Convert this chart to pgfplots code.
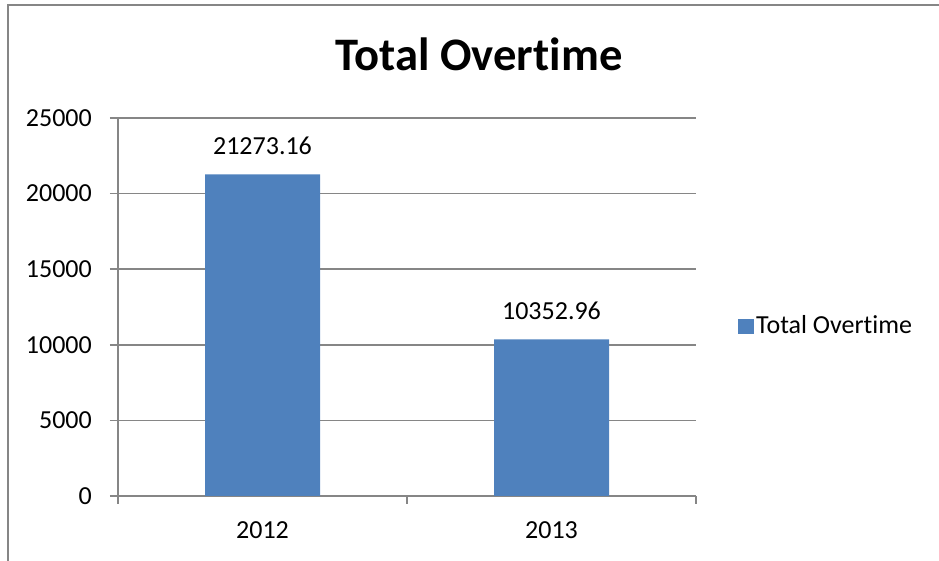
\documentclass[border=0pt]{standalone}
\usepackage{fontspec}
\setmainfont[Ligatures={NoCommon,NoContextual}]{Carlito}
\usepackage{pgfplots}
\pgfplotsset{compat=1.18}
\definecolor{barblue}{HTML}{4F81BD}
\definecolor{axgray}{HTML}{868686}
\begin{document}
\begin{tikzpicture}
\useasboundingbox (0,0) rectangle (939pt,561pt);
\draw[axgray, line width=1.5pt] (8pt,0pt) -- (8pt,556pt) -- (939pt,556pt);
\begin{axis}[
  at={(118pt,65pt)}, anchor=south west,
  scale only axis, width=578pt, height=378pt,
  xmin=-0.5, xmax=1.5, ymin=0, ymax=25000,
  axis x line*=bottom, axis y line*=left,
  axis line style={axgray, line width=1.5pt},
  ybar, bar width=115pt,
  xtick={-0.5,0.5,1.5}, xticklabels={},
  extra x ticks={0,1}, extra x tick labels={2012,2013},
  extra x tick style={major tick length=0pt, grid=none},
  ytick={0,5000,10000,15000,20000,25000},
  tick align=outside, major tick length=8pt,
  tick style={axgray, line width=1.5pt},
  ymajorgrids, grid style={axgray, line width=1.5pt},
  scaled y ticks=false,
  /pgf/number format/assume math mode=true,
  yticklabel={\pgfmathprintnumber[fixed,set thousands separator={}]{\tick}},
  ticklabel style={font=\fontsize{26}{30}\selectfont, inner sep=0pt},
  yticklabel style={anchor=east, xshift=-18pt},
  xticklabel style={anchor=base, yshift=-43pt},
  title={\textbf{Total Overtime}},
  title style={at={(0.6246,1.1085)}, anchor=base, inner sep=0pt, font=\fontsize{46.6}{50}\selectfont},
  point meta=explicit symbolic,
  nodes near coords,
  nodes near coords style={anchor=base, yshift=20pt, inner sep=0pt, font=\fontsize{26}{30}\selectfont, black},
  legend style={at={(1.0727,0.451)}, anchor=west, draw=none, fill=none, inner sep=0pt,
    font=\fontsize{26}{30}\selectfont, nodes={inner sep=2pt}},
  legend image code/.code={\fill[barblue] (0pt,-8pt) rectangle (16pt,7pt);},
]
\addplot[fill=barblue, draw=none] coordinates {(0,21273.16) [21273.16] (1,10352.96) [10352.96]};
\addlegendentry{Total Overtime}
\end{axis}
\end{tikzpicture}
\end{document}
